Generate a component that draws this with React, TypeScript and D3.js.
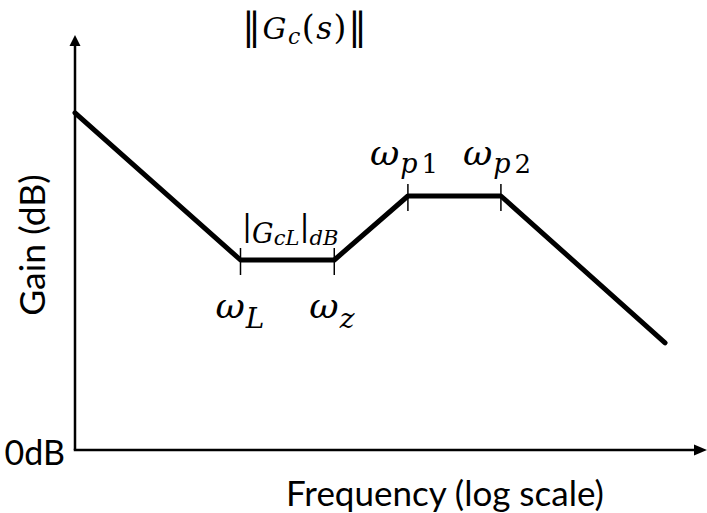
import React from "react";
import * as d3 from "d3";

// Asymptotic Bode magnitude of the compensator Gc(s)
const breakFreqs = [1, 69, 760, 5000, 54000, 3.6e6]; // rad/s, log axis
const gainsDb = [84.3, 47.5, 47.5, 63.5, 63.5, 26.8];
const cornerSym = ["L", "z", "p", "p"]; // ωL, ωz, ωp1, ωp2
const cornerNum = ["", "", "1", "2"];
const cornerIdx = [1, 2, 3, 4];

const W = 707;
const H = 513;
const serif = "'DejaVu Serif', 'Liberation Serif', serif";
const sans = "Lato, 'Open Sans', sans-serif";

export default function App() {
  const x = d3.scaleLog().domain([1, 1e7]).range([75, 705]);
  const y = d3.scaleLinear().domain([0, 103.75]).range([450, 35]);

  const pts: [number, number][] = breakFreqs.map((f, i) => [f, gainsDb[i]]);
  const line = d3
    .line<[number, number]>()
    .x((d) => x(d[0]))
    .y((d) => y(d[1]));

  const x0 = x(1);
  const y0 = y(0);
  const xEnd = x(1e7);

  // ωL and ωz sit under the line, ωp1 and ωp2 above it
  const labelBelow = [true, true, false, false];

  return (
    <svg
      width={W}
      height={H}
      style={{ position: "absolute", left: 0, top: 0, background: "#fff" }}
    >
      {/* axes */}
      <line x1={x0} y1={y0} x2={x0} y2={y(101)} stroke="#000" strokeWidth={2.5} />
      <path
        d={`M${x0},${y(103.75)} L${x0 - 5.5},${y(101)} L${x0 + 5.5},${y(101)} Z`}
        fill="#000"
      />
      <line x1={x0 - 1.25} y1={y0} x2={xEnd - 10} y2={y0} stroke="#000" strokeWidth={2.5} />
      <path
        d={`M${xEnd + 2},${y0} L${xEnd - 11},${y0 - 5.5} L${xEnd - 11},${y0 + 5.5} Z`}
        fill="#000"
      />

      {/* asymptotic gain */}
      <path
        d={line(pts) || ""}
        fill="none"
        stroke="#000"
        strokeWidth={5}
        strokeLinejoin="round"
        strokeLinecap="round"
      />

      {/* corner ticks and labels */}
      {cornerIdx.map((ci, k) => {
        const cx = x(breakFreqs[ci]);
        const cy = y(gainsDb[ci]);
        const below = labelBelow[k];
        const lx = below ? cx - 25 : cx - 38;
        const ly = below ? cy + 58 : cy - 31;
        const sub = below ? 10 : 8;
        return (
          <g key={k}>
            <line x1={cx} y1={cy - 12} x2={cx} y2={cy + 15} stroke="#000" strokeWidth={1.5} />
            <text x={lx} y={ly} fontFamily={serif} fontSize={36} fill="#000">
              <tspan fontStyle="italic">ω</tspan>
              <tspan dy={sub} dx={1} fontStyle="italic" fontSize={below ? 28 : 27}>
                {cornerSym[k]}
              </tspan>
              {cornerNum[k] && (
                <tspan dx={4} fontSize={26}>
                  {cornerNum[k]}
                </tspan>
              )}
            </text>
          </g>
        );
      })}

      {/* low-frequency gain label */}
      <text x={242} y={236} fontFamily={serif} fontSize={30} fill="#000">
        |
        <tspan dy={7} fontSize={27} fontStyle="italic">G</tspan>
        <tspan dy={2} fontSize={21} fontStyle="italic">cL</tspan>
        <tspan dy={-9}>|</tspan>
        <tspan dy={9} fontSize={21} fontStyle="italic">dB</tspan>
      </text>

      {/* title */}
      <text x={242} y={38.5} fontFamily={serif} fontSize={38} letterSpacing={1.5} fill="#000">
        ‖
        <tspan fontSize={30} fontStyle="italic">G</tspan>
        <tspan dy={5} fontSize={22} fontStyle="italic">c</tspan>
        <tspan dy={-5} fontSize={33}>(</tspan>
        <tspan fontSize={31} fontStyle="italic">s</tspan>
        <tspan fontSize={33}>)</tspan>‖
      </text>

      {/* axis titles */}
      <text x={65} y={465} textAnchor="end" fontFamily={sans} fontSize={34} fill="#000">
        0dB
      </text>
      <text
        transform="translate(45,245) rotate(-90)"
        textAnchor="middle"
        fontFamily={sans}
        fontSize={35.5}
        fill="#000"
      >
        Gain (dB)
      </text>
      <text x={445} y={506} textAnchor="middle" fontFamily={sans} fontSize={35} fill="#000">
        Frequency (log scale)
      </text>
    </svg>
  );
}
